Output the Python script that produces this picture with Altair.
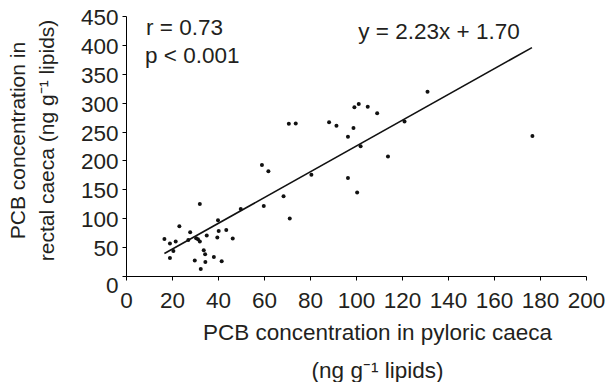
import altair as alt
import pandas as pd

# Scatter data
pyloric = [16.7, 19.1, 19.1, 20.6, 21.6, 23.2, 27.9, 27.1, 29.9, 30.5,
           31.3, 32.1, 32.1, 32.5, 33.8, 34.4, 34.5, 35.1, 38.2, 39.7,
           40.0, 40.3, 41.6, 43.6, 46.4, 49.9, 59.1, 59.9, 61.9, 68.5,
           70.8, 71.2, 73.8, 80.6, 88.3, 91.5, 96.5, 96.5, 98.9, 99.3,
           100.5, 101.2, 102.0, 105.1, 109.2, 113.9, 121.1, 131.1, 176.7]
rectal = [64.1, 56.2, 31.2, 43.3, 59.6, 86.1, 75.7, 62.4, 26.7, 65.3,
          63.6, 124.8, 59.6, 12.1, 44.5, 37.6, 24.3, 70.0, 32.9, 66.6,
          96.5, 78.0, 25.5, 79.7, 64.8, 116.1, 191.9, 121.3, 181.5, 138.1,
          263.4, 99.5, 264.1, 175.4, 265.9, 260.0, 240.9, 169.8, 256.0, 291.9,
          144.5, 297.6, 224.4, 292.9, 281.5, 206.9, 267.6, 318.9, 242.1]

# Regression line endpoints (y = 2.23x + 1.70)
line_x = [16.7, 176.5]
line_y = [38.9, 395.3]

# Annotations
ann_text = ["r = 0.73", "p < 0.001", "y = 2.23x + 1.70"]
ann_x = [8.7, 8.3, 101.0]
ann_y = [430.0, 380.0, 422.0]

x_ticks = list(range(0, 201, 20))
y_ticks = list(range(0, 451, 50))

FONT = "Liberation Sans"
INK = "#231f20"
FS = 22.5

pts = pd.DataFrame({"x": pyloric, "y": rectal})
ln = pd.DataFrame({"x": line_x, "y": line_y})
ann = pd.DataFrame({"t": ann_text, "x": ann_x, "y": ann_y})

xs = alt.Scale(domain=[0, 200], nice=False, zero=False)
ys = alt.Scale(domain=[0, 450], nice=False, zero=False)

xaxis = alt.Axis(
    values=x_ticks, grid=False, domainColor="black", tickColor="black",
    tickSize=4, labelFontSize=FS, labelFont=FONT, labelColor=INK,
    labelPadding=9, labelFlush=False, labelOverlap=False,
    title=["PCB concentration in pyloric caeca", "(ng g\u207b\u00b9 lipids)"],
    titleFont=FONT, titleFontSize=FS, titleFontWeight="normal", titleColor=INK,
    titleLineHeight=38, titleX=251, titleY=45, titleAlign="center",
    titleBaseline="top", titleAnchor="start",
)
yaxis = alt.Axis(
    values=y_ticks, grid=False, domainColor="black", tickColor="black",
    tickSize=4, labelFontSize=FS, labelFont=FONT, labelColor=INK,
    labelPadding=4, labelFlush=False, labelOverlap=False,
    labelOffset={"condition": {"test": "datum.value == 0", "value": 9}, "value": 1.5},
    title=["PCB concentration in", "rectal caeca (ng g\u207b\u00b9 lipids)"],
    titleFont=FONT, titleFontSize=21, titleFontWeight="normal", titleColor=INK,
    titleLineHeight=29, titleX=-119, titleY=124, titleAlign="center",
    titleBaseline="top", titleAnchor="start", titleAngle=270,
)

points = alt.Chart(pts).mark_circle(size=16, color="#111", opacity=1).encode(
    x=alt.X("x:Q", scale=xs, axis=xaxis),
    y=alt.Y("y:Q", scale=ys, axis=yaxis),
)
line = alt.Chart(ln).mark_line(color="#111", strokeWidth=1.6).encode(
    x=alt.X("x:Q", scale=xs, axis=xaxis), y=alt.Y("y:Q", scale=ys, axis=yaxis)
)
texts = alt.Chart(ann).mark_text(
    font=FONT, fontSize=FS, color=INK, align="left", baseline="middle"
).encode(x=alt.X("x:Q", scale=xs, axis=xaxis),
         y=alt.Y("y:Q", scale=ys, axis=yaxis), text="t:N")

chart = (points + line + texts).properties(
    width=460, height=260,
    autosize=alt.AutoSizeParams(type="none"),
    padding={"left": 126, "top": 16, "right": 25, "bottom": 106},
    background="white",
).configure_view(stroke=None)

chart.save("out.html", embed_options={"renderer": "svg", "actions": False})
